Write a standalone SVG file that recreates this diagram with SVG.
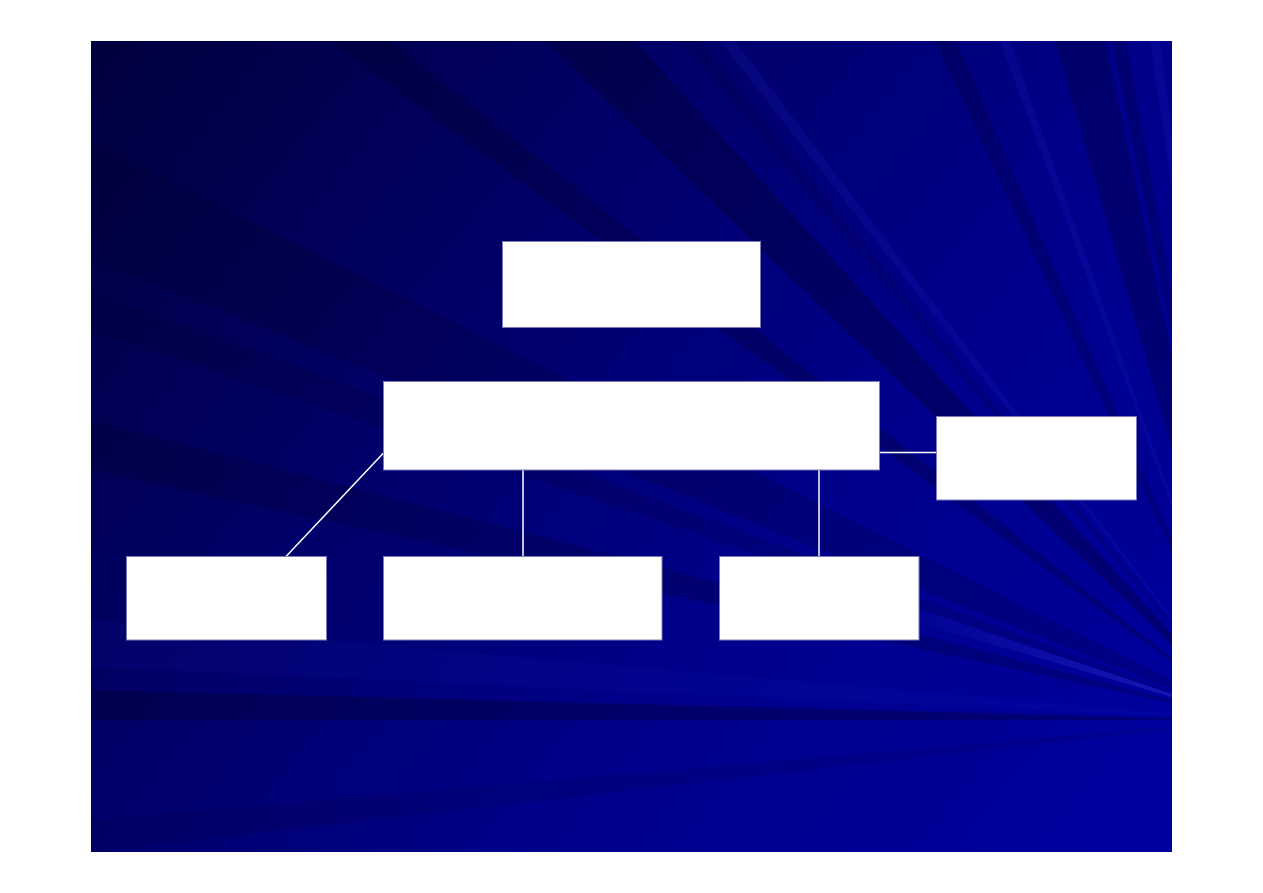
<svg xmlns="http://www.w3.org/2000/svg" width="1263" height="893" viewBox="0 0 1263 893">
  <defs>
    <linearGradient id="bg" gradientUnits="userSpaceOnUse" x1="91" y1="41" x2="1100" y2="852">
      <stop offset="0" stop-color="#00003e"/>
      <stop offset="0.35" stop-color="#000068"/>
      <stop offset="0.65" stop-color="#00008a"/>
      <stop offset="1" stop-color="#00009e"/>
    </linearGradient>
    <linearGradient id="glow" gradientUnits="userSpaceOnUse" x1="880" y1="0" x2="1172" y2="0">
      <stop offset="0" stop-color="#4040e0" stop-opacity="0"/>
      <stop offset="1" stop-color="#4040e0" stop-opacity="0.35"/>
    </linearGradient>
    <clipPath id="slide">
      <rect x="91" y="41" width="1081" height="811"/>
    </clipPath>
  </defs>
  <style>
    .dark { fill: #000020; }
    .light { fill: #2a2ad8; }
    .box { fill: #ffffff; stroke: #7a7ab8; stroke-width: 1; }
    .conn { stroke: #ffffff; stroke-width: 1.5; fill: none; }
  </style>
  <rect width="1263" height="893" fill="#ffffff"/>
  <g id="background" clip-path="url(#slide)">
    <rect x="91" y="41" width="1081" height="811" fill="url(#bg)"/>
    <polygon class="dark" opacity="0.25" points="1250,720 -1510,-1317 -1330,-1317"/>
    <polygon class="dark" opacity="0.3" points="1250,720 -865,-1317 -595,-1317"/>
    <polygon class="dark" opacity="0.15" points="1250,720 -460,-1317 -400,-1317"/>
    <polygon class="light" opacity="0.15" points="1250,720 -340,-1317 -295,-1317"/>
    <polygon class="dark" opacity="0.2" points="1250,720 305,-1317 368,-1317"/>
    <polygon class="light" opacity="0.15" points="1250,720 500,-1317 530,-1317"/>
    <polygon class="dark" opacity="0.25" points="1250,720 665,-1317 815,-1317"/>
    <polygon class="dark" opacity="0.2" points="1250,720 836,-1317 878,-1317"/>
    <polygon class="light" opacity="0.15" points="1250,720 950,-1317 980,-1317"/>
    <polygon class="dark" opacity="0.18" points="1250,720 -2227,-1020 -2227,-660"/>
    <polygon class="dark" opacity="0.15" points="1250,720 -2227,-570 -2227,-450"/>
    <polygon class="dark" opacity="0.2" points="1250,720 -2227,-180 -2227,-30"/>
    <polygon class="light" opacity="0.08" points="1250,720 -2227,420 -2227,560"/>
    <polygon class="dark" opacity="0.3" points="1250,720 -2227,630 -2227,720"/>
    <polygon class="dark" opacity="0.1" points="1250,720 -2227,1020 -2227,1116"/>
    <polygon fill="url(#glow)" points="1250,720 -2227,-440 -2227,-300"/>
  </g>
  <g id="connectors">
    <line class="conn" x1="383.5" y1="453" x2="286" y2="556.5"/>
    <line class="conn" x1="523" y1="470" x2="523" y2="556.5"/>
    <line class="conn" x1="819" y1="470" x2="819" y2="556.5"/>
    <line class="conn" x1="879.5" y1="452.5" x2="936.5" y2="452.5"/>
  </g>
  <g id="node-top"><rect class="box" x="502.5" y="241.5" width="258" height="86"/></g>
  <g id="node-main"><rect class="box" x="383.5" y="381.5" width="496" height="88.5"/></g>
  <g id="node-right"><rect class="box" x="936.5" y="416.5" width="200" height="83.5"/></g>
  <g id="node-bottom-left"><rect class="box" x="126.5" y="556.5" width="200" height="83.5"/></g>
  <g id="node-bottom-middle"><rect class="box" x="383.5" y="556.5" width="278.5" height="83.5"/></g>
  <g id="node-bottom-right"><rect class="box" x="719.5" y="556.5" width="199.5" height="83.5"/></g>
</svg>
